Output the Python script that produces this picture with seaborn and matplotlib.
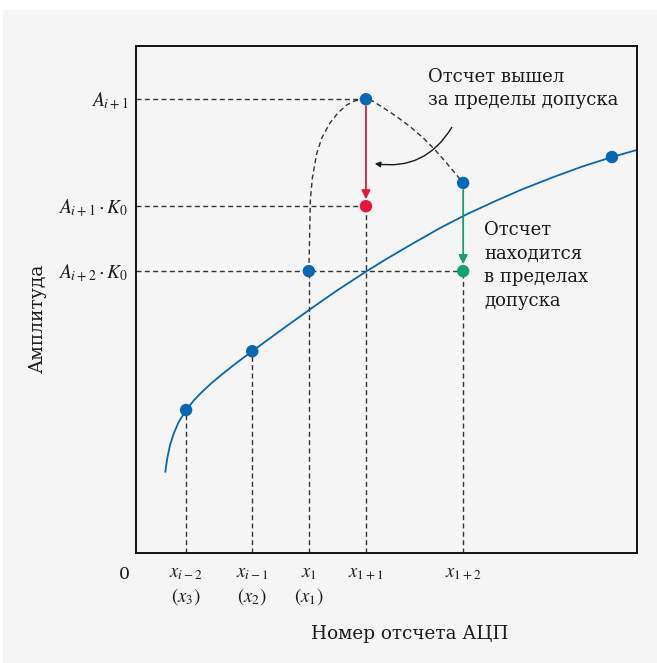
import matplotlib
matplotlib.use("Agg")
import matplotlib.pyplot as plt
import seaborn as sns
from matplotlib.patches import Rectangle, FancyArrowPatch

sns.set_theme(style="white")
plt.rcParams["font.family"] = ["DejaVu Serif"]
plt.rcParams["mathtext.fontset"] = "dejavuserif"

# Sample positions along the ADC sample axis and their labels
tick_pos = [1.00, 2.32, 3.45, 4.59, 6.53]
tick_labels = [
    r"$x_{i-2}$" "\n" r"$(x_3)$",
    r"$x_{i-1}$" "\n" r"$(x_2)$",
    r"$x_1$" "\n" r"$(x_1)$",
    r"$x_{1+1}$" "\n" " ",
    r"$x_{1+2}$" "\n" " ",
]

# Amplitude levels marked on the vertical axis
level_pos = [8.95, 6.84, 5.56]
level_labels = [r"$A_{i+1}$", r"$A_{i+1}\cdot K_0$", r"$A_{i+2}\cdot K_0$"]

# Smooth signal curve
curve_x = [0.585, 0.60, 0.63, 0.68, 0.75, 0.85, 1.00, 1.15, 1.30, 1.50, 1.70,
           2.00, 2.32, 2.90, 3.45, 4.00, 4.59, 5.00, 5.50, 6.07, 6.60, 7.17,
           7.70, 8.32, 8.90, 9.50, 10.00]
curve_y = [1.60, 1.71, 1.90, 2.13, 2.35, 2.58, 2.82, 3.005, 3.16, 3.345, 3.51,
           3.745, 3.98, 4.40, 4.79, 5.17, 5.55, 5.80, 6.09, 6.41, 6.68, 6.94,
           7.17, 7.41, 7.62, 7.81, 7.95]

# ADC samples
sample_x = [1.00, 2.32, 3.45, 4.59, 6.53, 9.50]
sample_y = [2.82, 3.98, 5.56, 8.95, 7.30, 7.81]

# Spurious excursion through the out-of-tolerance sample
spike_x = [3.45, 3.46, 3.47, 3.48, 3.52, 3.61, 3.71, 3.87, 4.03, 4.21, 4.37,
           4.59, 4.66, 4.73, 4.97, 5.20, 5.47, 5.73, 5.97, 6.20, 6.53]
spike_y = [5.56, 5.98, 6.47, 6.96, 7.40, 7.89, 8.19, 8.48, 8.68, 8.84, 8.92,
           8.95, 8.94, 8.91, 8.76, 8.61, 8.41, 8.19, 7.95, 7.69, 7.30]

# Corrected samples: rejected (red) and accepted (green)
rejected = (4.59, 6.84)
accepted = (6.53, 5.56)

BLUE = "#0866b2"
RED = "#e5173c"
GREEN = "#14a070"
GRID = "#333333"
INK = "#1a1a1a"
PANEL = "#f5f5f5"

fig = plt.figure(figsize=(6.57, 6.63), dpi=100)
fig.patches.append(Rectangle((3 / 657, 0), 1, 1 - 10 / 663, transform=fig.transFigure,
                             facecolor=PANEL, edgecolor="none", zorder=-10))
ax = fig.add_axes([136 / 657, 1 - 553 / 663, 501 / 657, 507 / 663])
ax.set_facecolor(PANEL)
ax.set_xlim(0, 10)
ax.set_ylim(0, 10)

dash = dict(color=GRID, lw=1.0, linestyle=(0, (3.6, 2.4)), zorder=1)
# drop lines from samples to the sample axis
ax.vlines(sample_x[:3], 0, sample_y[:3], **dash)
ax.vlines(rejected[0], 0, rejected[1], **dash)
ax.vlines(accepted[0], 0, accepted[1], **dash)
# level lines from the amplitude axis
ax.hlines(level_pos[0], 0, sample_x[3], **dash)
ax.hlines(level_pos[1], 0, rejected[0], **dash)
ax.hlines(level_pos[2], 0, accepted[0], **dash)

sns.lineplot(x=spike_x, y=spike_y, sort=False, estimator=None, ax=ax,
             color=GRID, lw=1.0, linestyle=(0, (3.6, 2.4)), zorder=1)
sns.lineplot(x=curve_x, y=curve_y, sort=False, estimator=None, ax=ax,
             color=BLUE, lw=1.3, zorder=2)

# correction arrows
for (x0, y0), (x1, y1), col in [((sample_x[3], sample_y[3]), rejected, RED),
                                ((sample_x[4], sample_y[4]), accepted, GREEN)]:
    ax.add_patch(FancyArrowPatch((x0, y0), (x1, y1), arrowstyle="-|>",
                                 mutation_scale=13, color=col, lw=1.3,
                                 shrinkA=5, shrinkB=5, zorder=3))

sns.scatterplot(x=sample_x, y=sample_y, ax=ax, color=BLUE, s=80,
                edgecolor="none", zorder=4)
sns.scatterplot(x=[rejected[0]], y=[rejected[1]], ax=ax, color=RED, s=80,
                edgecolor="none", zorder=4)
sns.scatterplot(x=[accepted[0]], y=[accepted[1]], ax=ax, color=GREEN, s=80,
                edgecolor="none", zorder=4)

ax.text(5.83, 9.57, "Отсчет вышел\nза пределы допуска", ha="left", va="top",
        fontsize=13, color=INK, linespacing=1.4)
ax.add_patch(FancyArrowPatch((6.33, 8.44), (4.71, 7.69), arrowstyle="-|>",
                             mutation_scale=8, color=INK, lw=1.0,
                             connectionstyle="arc3,rad=-0.35", zorder=3))
ax.text(6.95, 6.55, "Отсчет\nнаходится\nв пределах\nдопуска", ha="left",
        va="top", fontsize=13, color=INK, linespacing=1.4)

ax.set_xticks(tick_pos)
ax.set_xticklabels(tick_labels, fontsize=13.5, color=INK, va="top",
                   linespacing=1.25)
ax.set_yticks(level_pos)
ax.set_yticklabels(level_labels, fontsize=14, color=INK)
for t in ax.get_xticklabels() + ax.get_yticklabels():
    t.set_math_fontfamily("stix")
ax.tick_params(axis="both", length=0)
ax.tick_params(axis="x", pad=8)
ax.tick_params(axis="y", pad=5.5)

ax.text(-0.024, -0.043, "0", transform=ax.transAxes, ha="center", va="center",
        fontsize=12.5, color=INK)

ax.set_xlabel("Номер отсчета АЦП", fontsize=13.2, color=INK)
ax.xaxis.set_label_coords(0.547, -0.142)
ax.set_ylabel("Амплитуда", fontsize=13.5, color=INK)
ax.yaxis.set_label_coords(-0.178, 0.463)

for sp in ax.spines.values():
    sp.set_visible(True)
    sp.set_color("#111111")
    sp.set_linewidth(1.4)

fig.savefig("out.png", dpi=100, facecolor="white")
